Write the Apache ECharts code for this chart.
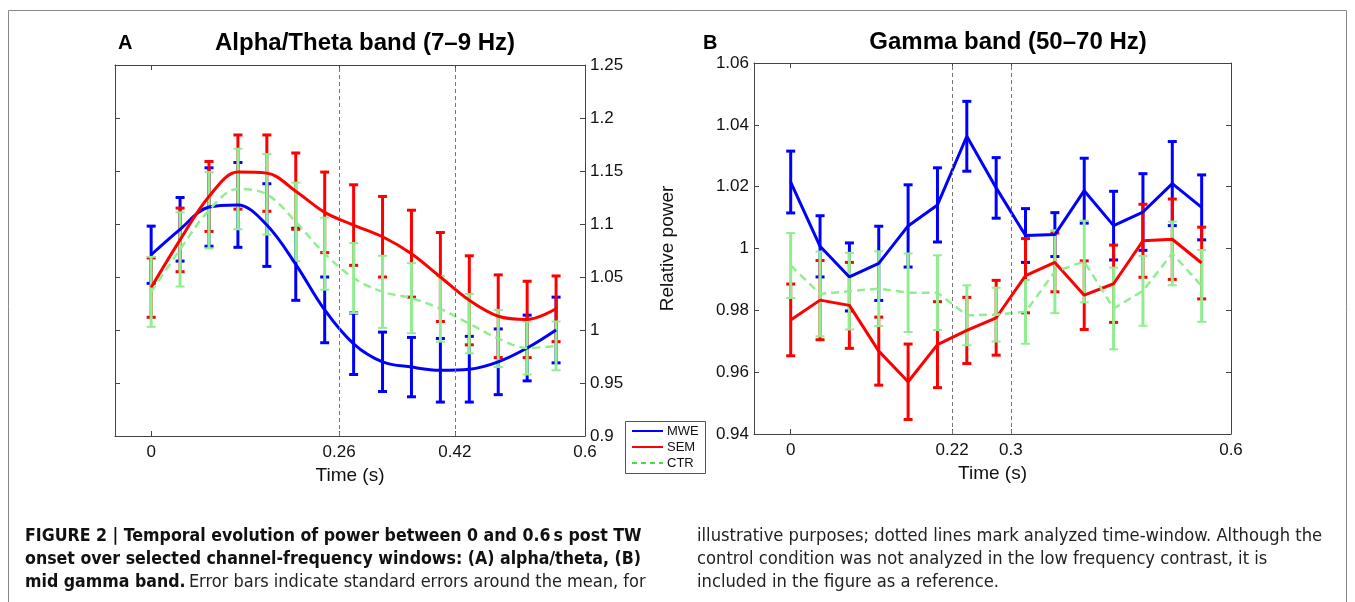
<!DOCTYPE html>
<html>
<head>
<meta charset="utf-8">
<script src="https://cdn.jsdelivr.net/npm/echarts@6/dist/echarts.min.js"></script>
<style>
html,body{margin:0;padding:0;background:#fff;}
#chart{width:1355px;height:602px;}
</style>
</head>
<body>
<div id="chart"></div>
<script>
// ---- data ----
var time = [0, 0.04, 0.08, 0.12, 0.16, 0.20, 0.24, 0.28, 0.32, 0.36, 0.40, 0.44, 0.48, 0.52, 0.56];

var mweA = [1.071, 1.095, 1.116, 1.118, 1.099, 1.062, 1.019, 0.987, 0.970, 0.965, 0.962, 0.963, 0.970, 0.983, 1.000];
var mweAerr = [0.027, 0.030, 0.037, 0.040, 0.039, 0.034, 0.031, 0.029, 0.028, 0.028, 0.030, 0.031, 0.031, 0.031, 0.031];
var semA = [1.040, 1.085, 1.126, 1.149, 1.148, 1.131, 1.111, 1.099, 1.088, 1.072, 1.050, 1.028, 1.013, 1.010, 1.020];
var semAerr = [0.028, 0.030, 0.033, 0.035, 0.036, 0.036, 0.038, 0.038, 0.038, 0.041, 0.042, 0.042, 0.039, 0.036, 0.031];
var ctrA = [1.036, 1.076, 1.113, 1.133, 1.128, 1.102, 1.072, 1.049, 1.036, 1.030, 1.020, 1.006, 0.992, 0.983, 0.985];
var ctrAerr = [0.033, 0.035, 0.036, 0.038, 0.038, 0.037, 0.034, 0.033, 0.034, 0.033, 0.031, 0.028, 0.027, 0.025, 0.023];

var mweB = [1.0215, 1.0007, 0.9908, 0.9952, 1.0073, 1.0141, 1.0363, 1.0196, 1.0042, 1.0045, 1.0187, 1.0074, 1.0118, 1.0210, 1.0133];
var mweBerr = [0.0100, 0.0099, 0.0110, 0.0120, 0.0133, 0.0120, 0.0113, 0.0098, 0.0087, 0.0071, 0.0105, 0.0111, 0.0124, 0.0136, 0.0105];
var semB = [0.9769, 0.9833, 0.9816, 0.9668, 0.9569, 0.9689, 0.9735, 0.9776, 0.9912, 0.9955, 0.9849, 0.9886, 1.0025, 1.0030, 0.9953];
var semBerr = [0.0116, 0.0128, 0.0139, 0.0110, 0.0122, 0.0139, 0.0107, 0.0121, 0.0120, 0.0095, 0.0111, 0.0125, 0.0118, 0.0130, 0.0116];
var ctrB = [0.9945, 0.9853, 0.9862, 0.9870, 0.9857, 0.9857, 0.9784, 0.9786, 0.9795, 0.9925, 0.9958, 0.9806, 0.9863, 0.9984, 0.9879];
var ctrBerr = [0.0105, 0.0137, 0.0124, 0.0121, 0.0127, 0.0121, 0.0097, 0.0087, 0.0103, 0.0134, 0.0132, 0.0132, 0.0113, 0.0103, 0.0116];

var xTicksA = [0, 0.26, 0.42, 0.6];
var xTicksB = [0, 0.22, 0.3, 0.6];
var windowA = [0.26, 0.42];
var windowB = [0.22, 0.3];
var seriesNames = ['MWE', 'SEM', 'CTR'];
var titleA = 'Alpha/Theta band (7\u20139 Hz)';
var titleB = 'Gamma band (50\u201370 Hz)';

// ---- helpers ----
var BLUE = '#0000ff', RED = '#ff0000', GREEN = '#90ee90';
var FONT = '"Liberation Sans", Arial, sans-serif';
var CAPFONT = '"Liberation Sans Narrow", "DejaVu Sans Condensed", sans-serif';
var AX = '#444';

function pairs(m) { return time.map(function (t, i) { return [t, m[i]]; }); }
function bars(m, e) { return time.map(function (t, i) { return [t, m[i] - e[i], m[i] + e[i]]; }); }

function errRender(capW, lw, capLw, color) {
  return function (params, api) {
    var x = api.value(0), lo = api.value(1), hi = api.value(2);
    var p1 = api.coord([x, lo]), p2 = api.coord([x, hi]);
    var h = capW / 2;
    var st = { stroke: color, lineWidth: lw };
    var cst = { stroke: color, lineWidth: capLw };
    return {
      type: 'group', children: [
        { type: 'line', shape: { x1: p1[0], y1: p1[1], x2: p2[0], y2: p2[1] }, style: st },
        { type: 'line', shape: { x1: p1[0] - h, y1: p1[1], x2: p1[0] + h, y2: p1[1] }, style: cst },
        { type: 'line', shape: { x1: p2[0] - h, y1: p2[1], x2: p2[0] + h, y2: p2[1] }, style: cst }
      ]
    };
  };
}

function lineSeries(name, m, color, xi, yi, smooth, dashed) {
  return {
    type: 'line', name: name, data: pairs(m), xAxisIndex: xi, yAxisIndex: yi,
    symbol: 'none', showSymbol: false, smooth: smooth, animation: false,
    lineStyle: { color: color, width: dashed ? 2.5 : 3, type: dashed ? [8, 5] : 'solid' },
    itemStyle: { color: color }
  };
}
function errSeries(name, m, e, color, xi, yi, lw, capLw) {
  return {
    type: 'custom', name: name, data: bars(m, e), xAxisIndex: xi, yAxisIndex: yi,
    encode: { x: 0, y: [1, 2] }, renderItem: errRender(9, lw, capLw, color), animation: false,
    itemStyle: { color: color }
  };
}
function windowSeries(vals, xi, yi) {
  return {
    type: 'line', data: [], xAxisIndex: xi, yAxisIndex: yi, silent: true,
    markLine: {
      silent: true, symbol: ['none', 'none'], animation: false,
      label: { show: false },
      lineStyle: { color: '#777', width: 1, type: [4, 3] },
      data: vals.map(function (v) { return { xAxis: v }; })
    }
  };
}

var tickStyle = { show: true, inside: true, length: 5, lineStyle: { color: AX, width: 1 } };
var lineAx = { show: true, onZero: false, lineStyle: { color: AX, width: 1 } };
var lblStyle = { color: '#111', fontSize: 17, fontFamily: FONT };
var fmt2 = function (v) { return String(+v.toFixed(2)); };

function xAxes(grid, ticks) {
  return [
    { type: 'value', gridIndex: grid, min: -0.05, max: 0.6, position: 'bottom',
      axisLine: lineAx, splitLine: { show: false },
      axisTick: Object.assign({ customValues: ticks }, tickStyle),
      axisLabel: Object.assign({ customValues: ticks, margin: 8, formatter: fmt2 }, lblStyle),
      name: 'Time (s)', nameLocation: 'middle', nameGap: 27,
      nameTextStyle: { color: '#111', fontSize: 19, fontFamily: FONT } },
    { type: 'value', gridIndex: grid, min: -0.05, max: 0.6, position: 'top',
      axisLine: lineAx, splitLine: { show: false },
      axisTick: Object.assign({ customValues: ticks }, tickStyle),
      axisLabel: { show: false } }
  ];
}

// legend drawn as graphic (line samples + names)
var legendX = 625, legendY = 421;
var legendStyles = [
  { color: BLUE, dash: null },
  { color: RED, dash: null },
  { color: '#44dd44', dash: [5, 4] }
];
var legendGraphic = [
  { type: 'rect', shape: { x: legendX + 0.5, y: legendY + 0.5, width: 80, height: 52 }, silent: true,
    style: { fill: '#fff', stroke: '#555', lineWidth: 1 }, z: 100 }
];
seriesNames.forEach(function (n, i) {
  var yy = legendY + 10 + i * 16;
  legendGraphic.push({ type: 'line', z: 101, silent: true,
    shape: { x1: legendX + 7, y1: yy, x2: legendX + 38, y2: yy },
    style: { stroke: legendStyles[i].color, lineWidth: 2, lineDash: legendStyles[i].dash } });
  legendGraphic.push({ type: 'text', z: 101, silent: true, x: legendX + 42, y: yy,
    style: { text: n, font: '13px ' + FONT, fill: '#111', verticalAlign: 'middle' } });
});

var option = {
  animation: false,
  backgroundColor: '#fff',
  grid: [
    { left: 115, top: 65, width: 470, height: 371 },
    { left: 754, top: 63, width: 477, height: 371 }
  ],
  xAxis: xAxes(0, xTicksA).concat(xAxes(1, xTicksB)),
  yAxis: [
    { type: 'value', gridIndex: 0, min: 0.9, max: 1.25, interval: 0.05, position: 'right',
      axisLine: lineAx, splitLine: { show: false }, axisTick: tickStyle,
      axisLabel: Object.assign({ margin: 5, formatter: fmt2 }, lblStyle) },
    { type: 'value', gridIndex: 0, min: 0.9, max: 1.25, interval: 0.05, position: 'left',
      axisLine: lineAx, splitLine: { show: false }, axisTick: tickStyle, axisLabel: { show: false } },
    { type: 'value', gridIndex: 1, min: 0.94, max: 1.06, interval: 0.02, position: 'left',
      axisLine: lineAx, splitLine: { show: false }, axisTick: tickStyle,
      axisLabel: Object.assign({ margin: 5, formatter: fmt2 }, lblStyle),
      name: 'Relative power', nameLocation: 'middle', nameGap: 77, nameRotate: 90,
      nameTextStyle: { color: '#111', fontSize: 19, fontFamily: FONT } },
    { type: 'value', gridIndex: 1, min: 0.94, max: 1.06, interval: 0.02, position: 'right',
      axisLine: lineAx, splitLine: { show: false }, axisTick: tickStyle, axisLabel: { show: false } }
  ],
  series: [
    windowSeries(windowA, 0, 0),
    lineSeries(seriesNames[0], mweA, BLUE, 0, 0, 0.35, false),
    errSeries(seriesNames[0], mweA, mweAerr, BLUE, 0, 0, 3, 3),
    lineSeries(seriesNames[1], semA, RED, 0, 0, 0.35, false),
    errSeries(seriesNames[1], semA, semAerr, RED, 0, 0, 3, 3),
    lineSeries(seriesNames[2], ctrA, GREEN, 0, 0, 0.35, true),
    errSeries(seriesNames[2], ctrA, ctrAerr, GREEN, 0, 0, 3, 2),

    windowSeries(windowB, 2, 2),
    lineSeries(seriesNames[0], mweB, BLUE, 2, 2, false, false),
    errSeries(seriesNames[0], mweB, mweBerr, BLUE, 2, 2, 3, 3),
    lineSeries(seriesNames[1], semB, RED, 2, 2, false, false),
    errSeries(seriesNames[1], semB, semBerr, RED, 2, 2, 3, 3),
    lineSeries(seriesNames[2], ctrB, GREEN, 2, 2, false, true),
    errSeries(seriesNames[2], ctrB, ctrBerr, GREEN, 2, 2, 3, 2)
  ],
  graphic: [
    { type: 'rect', shape: { x: 8.5, y: 10.5, width: 1338, height: 620 }, silent: true, z: -10,
      style: { fill: 'none', stroke: '#888', lineWidth: 1 } },
    { type: 'text', x: 118, y: 43, style: { text: 'A', font: 'bold 20px ' + FONT, fill: '#000', verticalAlign: 'middle' } },
    { type: 'text', x: 365, y: 43, style: { text: titleA, font: 'bold 24px ' + FONT, fill: '#000', align: 'center', verticalAlign: 'middle' } },
    { type: 'text', x: 703, y: 43, style: { text: 'B', font: 'bold 20px ' + FONT, fill: '#000', verticalAlign: 'middle' } },
    { type: 'text', x: 1008, y: 42, style: { text: titleB, font: 'bold 24px ' + FONT, fill: '#000', align: 'center', verticalAlign: 'middle' } },

    { type: 'text', x: 25, y: 536, style: { text: 'FIGURE 2 | Temporal evolution of power between 0 and 0.6\u2009s post TW', font: 'bold 17.6px ' + CAPFONT, fill: '#111', verticalAlign: 'middle' } },
    { type: 'text', x: 25, y: 559, style: { text: 'onset over selected channel-frequency windows: (A) alpha/theta, (B)', font: 'bold 17.6px ' + CAPFONT, fill: '#111', verticalAlign: 'middle' } },
    { type: 'text', x: 25, y: 582, style: {
        text: '{b|mid gamma band.} {n|Error bars indicate standard errors around the mean, for}',
        verticalAlign: 'middle',
        rich: {
          b: { font: 'bold 17.6px ' + CAPFONT, fill: '#111' },
          n: { font: '18px ' + CAPFONT, fill: '#222' }
        } } },
    { type: 'text', x: 697, y: 536, style: { text: 'illustrative purposes; dotted lines mark analyzed time-window. Although the', font: '18.2px ' + CAPFONT, fill: '#222', verticalAlign: 'middle' } },
    { type: 'text', x: 697, y: 559, style: { text: 'control condition was not analyzed in the low frequency contrast, it is', font: '18.2px ' + CAPFONT, fill: '#222', verticalAlign: 'middle' } },
    { type: 'text', x: 697, y: 582, style: { text: 'included in the figure as a reference.', font: '18.2px ' + CAPFONT, fill: '#222', verticalAlign: 'middle' } }
  ].concat(legendGraphic)
};

var chart = echarts.init(document.getElementById('chart'), null, { renderer: 'canvas' });
chart.setOption(option);
</script>
</body>
</html>
